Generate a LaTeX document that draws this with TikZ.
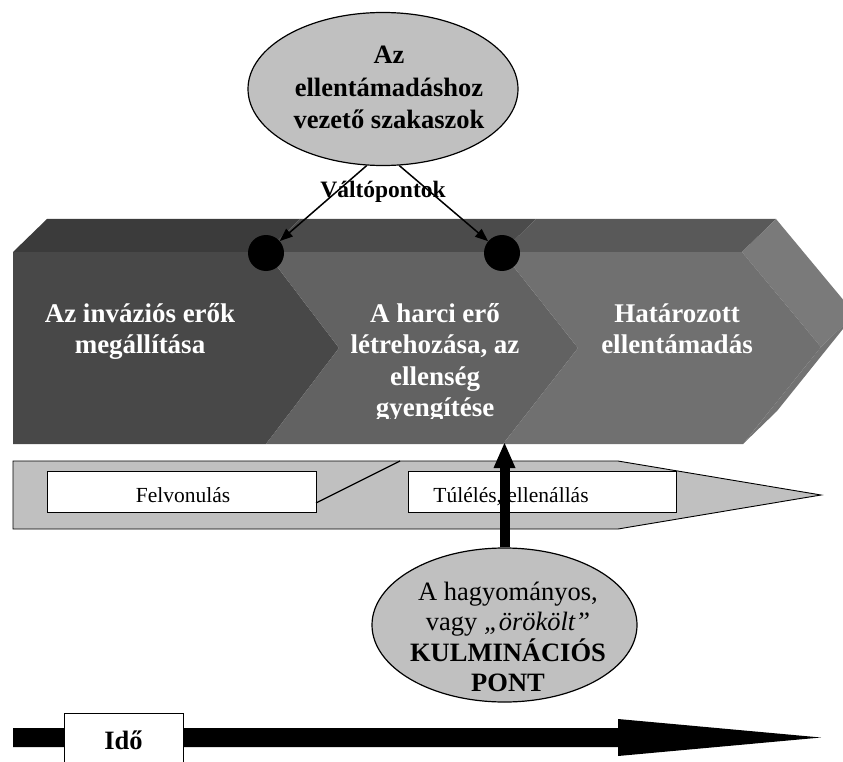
\documentclass[tikz,border=0pt]{standalone}
\usepackage{fontspec}
\setmainfont{Liberation Serif}
\usetikzlibrary{arrows.meta,shapes.geometric}
\definecolor{chevA}{HTML}{484848}
\definecolor{chevAtop}{HTML}{3B3B3B}
\definecolor{chevB}{HTML}{626262}
\definecolor{chevBtop}{HTML}{4B4B4B}
\definecolor{chevC}{HTML}{707070}
\definecolor{chevCtop}{HTML}{595959}
\definecolor{chevSide}{HTML}{7A7A7A}
\definecolor{chevLow}{HTML}{737373}
\definecolor{lgray}{HTML}{C0C0C0}
\begin{document}
\begin{tikzpicture}[x=1pt,y=-1pt,
  bubble/.style={ellipse, draw=black, line width=1.2pt, fill=lgray, inner sep=0pt},
  bigtext/.style={font=\fontsize{26.5}{32.5}\selectfont, align=center, inner sep=0pt, anchor=base},
  chevtext/.style={font=\bfseries\fontsize{27}{31.5}\selectfont, text=white, align=center, inner sep=0pt, anchor=base},
  labelbox/.style={draw=black, line width=0.9pt, fill=white, inner sep=0pt},
  smalltext/.style={font=\fontsize{21.5}{25}\selectfont, inner sep=0pt, anchor=base},
  pointer/.style={line width=1.5pt, -{Triangle[width=10pt,length=13pt]}},
  dotnode/.style={circle, fill=black, minimum size=36pt, inner sep=0pt}
]
\clip (0,0) rectangle (843,762);
% chevron band: top faces
\fill[chevAtop] (13,252) -- (47,219) -- (300,219) -- (266,252) -- cycle;
\fill[chevBtop] (266,252) -- (300,219) -- (536,219) -- (502,252) -- cycle;
\fill[chevCtop] (502,252) -- (536,219) -- (776,219) -- (742,252) -- cycle;
% side faces of the last tip
\fill[chevSide] (742,252) -- (776,219) -- (855,314) -- (821,347) -- cycle;
\fill[chevLow] (821,347) -- (855,314) -- (777,411) -- (743,444) -- cycle;
% front faces
\fill[chevA] (13,252) -- (266,252) -- (339,348) -- (266,444) -- (13,444) -- cycle;
\fill[chevB] (266,252) -- (502,252) -- (578,348) -- (503,444) -- (266,444) -- (339,348) -- cycle;
\fill[chevC] (502,252) -- (742,252) -- (821,347) -- (743,444) -- (503,444) -- (578,348) -- cycle;
% chevron texts (anchor base = baseline of the last line)
\node[chevtext] (c1) at (140,353.5) {Az inváziós erők\\megállítása};
\begin{scope}
\clip (266,252) rectangle (578,418);
\node[chevtext] (c2) at (435,416.5) {A harci erő\\létrehozása, az\\ellenség\\gyengítése};
\end{scope}
\node[chevtext] (c3) at (677,353.5) {Határozott\\ellentámadás};
% turning points
\node[dotnode] (d1) at (266,253) {};
\node[dotnode] (d2) at (502,253) {};
% top ellipse
\node[bubble, minimum width=270pt, minimum height=153pt] (top) at (383,89) {};
\node[bigtext, font=\bfseries\fontsize{26.5}{32.5}\selectfont] (toptext) at (389,129) {Az\\ellentámadáshoz\\vezető szakaszok};
\node[anchor=base, inner sep=0pt, font=\bfseries\fontsize{23.5}{28}\selectfont] (valto) at (383,198) {Váltópontok};
\draw[pointer] (top.-102) -- (d1);
\draw[pointer] (top.-78) -- (d2);
% lower grey arrow band
\filldraw[fill=lgray, draw=black, line width=0.9pt] (13,461) -- (618,461) -- (821,495) -- (618,529) -- (13,529) -- cycle;
\node[labelbox, minimum width=269pt, minimum height=41pt] (b1) at (181.5,491.5) {};
\node[labelbox, minimum width=268pt, minimum height=41pt] (b2) at (542,491.5) {};
\coordinate (dg1) at (316,503);
\coordinate (dg2) at (400,461);
\draw[line width=1.2pt] (dg1) -- (dg2);
\node[smalltext] (t1) at (183,502) {Felvonulás};
\node[smalltext] (t2) at (511,502) {Túlélés, ellenállás};
% bottom ellipse
\node[bubble, minimum width=265pt, minimum height=154pt] (bot) at (504.5,625) {};
\node[bigtext, font=\fontsize{26.5}{30.5}\selectfont] (bottext) at (508,691.5) {A hagyományos,\\vagy \textit{„örökölt”}\\\textbf{KULMINÁCIÓS}\\\textbf{PONT}};
\coordinate (bandpt) at (504.5,443);
\draw[line width=10pt, -{Triangle[width=22pt,length=25pt,line width=0pt]}] (bot.north) -- (bandpt);
% time arrow
\fill[black] (13,728) -- (618,728) -- (618,719) -- (821,737.5) -- (618,756) -- (618,747) -- (13,747) -- cycle;
\node[labelbox, minimum width=119pt, minimum height=60pt, anchor=north] (idobox) at (123.5,713) {};
\node[anchor=base, inner sep=0pt, font=\bfseries\fontsize{26.5}{30}\selectfont] (ido) at (123.5,749) {Idő};
\end{tikzpicture}
\end{document}
